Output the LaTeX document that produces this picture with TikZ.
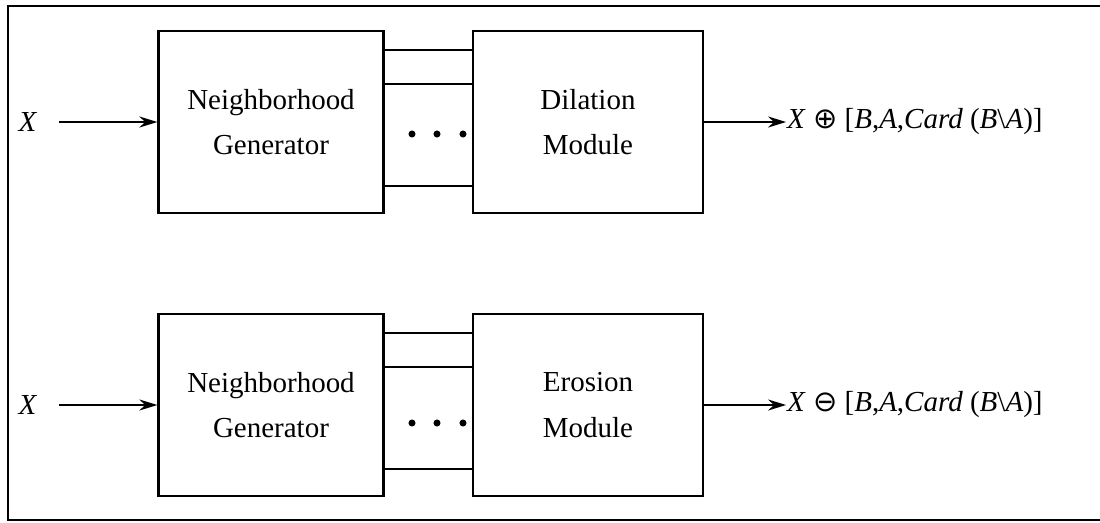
\documentclass[tikz,border=0pt]{standalone}
\usepackage{fontspec}
\setmainfont{Liberation Serif}
\newfontfamily\symfont{DejaVu Sans}
\usetikzlibrary{arrows.meta,positioning}

\begin{document}
\begin{tikzpicture}[x=0.02cm,y=-0.02cm,line width=1.3pt,
  block/.style={draw,minimum width=4.5cm,minimum height=3.64cm,align=center,
    font=\fontsize{16.5}{26}\selectfont},
  feed/.style={-{Stealth[length=0.36cm,width=0.22cm]}},
  lbl/.style={font=\fontsize{16.5}{20}\selectfont}]
\useasboundingbox (0,0) rectangle (1100,522);
\draw (1100,6) -- (8,6) -- (8,520) -- (1100,520);
% dilation
\node[block] (gen1) at (271,122) {Neighborhood\\Generator};
\node[block,minimum width=4.6cm] (dil) at (588,122) {Dilation\\Module};
\node[lbl] (x1) at (28,122) {\textit{X}};
\node[lbl,inner sep=0,right=1.64cm of dil] (y1) {\textit{X} {\symfont ⊕} [\textit{B},\textit{A},\textit{Card} (\textit{B}\textbackslash\textit{A})]};
\draw[feed,shorten <=0.3cm] (x1) -- (gen1);
\draw[feed] (dil) -- (y1);
\foreach \d in {0.4,1.08,3.12}
  \draw ([yshift=-\d cm]gen1.north east) -- ([yshift=-\d cm]dil.north west);
\foreach \x in {412,437,463} \fill (\x,134) circle (2pt);
% erosion
\node[block] (gen2) at (271,405) {Neighborhood\\Generator};
\node[block,minimum width=4.6cm] (ero) at (588,405) {Erosion\\Module};
\node[lbl] (x2) at (28,405) {\textit{X}};
\node[lbl,inner sep=0,right=1.64cm of ero] (y2) {\textit{X} {\symfont ⊖} [\textit{B},\textit{A},\textit{Card} (\textit{B}\textbackslash\textit{A})]};
\draw[feed,shorten <=0.3cm] (x2) -- (gen2);
\draw[feed] (ero) -- (y2);
\foreach \d in {0.4,1.08,3.12}
  \draw ([yshift=-\d cm]gen2.north east) -- ([yshift=-\d cm]ero.north west);
\foreach \x in {412,437,463} \fill (\x,423) circle (2pt);
\end{tikzpicture}
\end{document}
